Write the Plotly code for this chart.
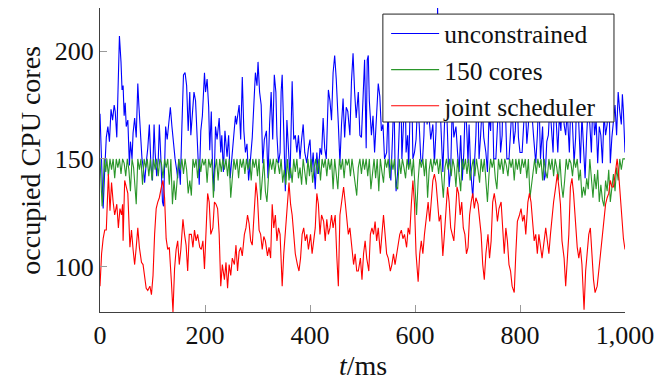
import plotly.graph_objects as go

# ---------------- data ----------------
unc_t = [0,3,6,9,12,15,18,21,24,27,29,32,35,37,40,42,44,46,48,50,53,56,58,61,63,66,69,72,74,76,78,80,83,85,88,91,94,97,100,103,105,108,111,113,116,119,121,123,125,128,131,134,137,140,143,146,148,150,153,156,159,162,165,168,171,173,176,179,182,185,189,192,195,199,201,204,207,209,212,214,217,220,223,227,230,232,235,238,242,245,248,251,255,258,260,265,268,271,274,277,280,283,286,290,293,296,299,301,304,307,310,313,317,320,323,326,329,332,335,337,340,343,345,347,350,353,356,359,362,366,369,372,375,378,381,384,387,390,394,397,400,403,406,410,413,416,419,422,425,428,431,435,438,441,444,447,450,454,457,460,463,466,469,472,476,479,482,485,488,492,495,498,501,504,507,509,511,513,517,520,523,527,530,533,536,539,542,546,549,551,554,557,560,562,564,567,570,573,575,578,581,583,586,588,590,593,596,599,602,605,608,611,614,617,620,623,626,630,634,637,640,643,646,649,651,653,656,659,662,665,668,671,674,678,681,684,687,690,693,696,699,701,703,706,710,713,716,719,722,725,728,731,735,738,741,744,747,750,754,757,760,763,766,769,772,775,779,782,785,788,791,794,797,800,804,807,810,813,816,820,823,826,830,833,836,839,843,846,848,851,854,857,860,863,866,869,872,875,878,881,884,887,890,894,897,900,903,906,909,912,915,918,921,924,927,930,933,936,939,942,945,948,951,954,957,960,963,966,969,972,975,978,981,984,987,990,993,995,997,1000]
unc_v = [171,150,127,145,160,165,158,173,168,175,172,160,190,207,195,182,184,170,176,165,168,147,158,150,162,169,160,185,175,166,158,150,145,139,148,155,166,147,140,166,153,142,150,166,150,130,128,145,165,159,166,174,165,157,150,145,141,150,138,165,189,190,184,163,181,161,172,181,177,161,138,163,170,190,181,187,174,154,172,150,135,165,159,169,153,161,144,163,151,161,141,150,161,170,166,175,159,188,163,153,157,140,148,160,175,190,184,195,181,175,148,159,163,141,166,181,159,189,181,161,148,153,181,189,163,135,168,153,141,186,159,161,153,161,150,159,166,153,148,155,159,144,153,136,153,143,155,152,169,155,150,182,177,168,190,198,187,166,148,166,178,160,174,172,161,186,199,181,169,181,161,160,180,196,155,196,198,177,161,170,153,172,185,179,163,166,150,153,175,148,140,159,180,146,135,144,163,185,150,166,190,153,161,146,166,195,150,153,159,176,166,150,148,161,188,166,172,159,166,148,163,220,185,166,157,144,165,182,161,137,145,175,160,165,153,144,161,140,153,178,161,148,166,145,132,150,161,190,150,161,175,160,153,144,170,163,185,150,150,165,180,153,161,200,168,150,150,161,175,157,163,185,160,153,153,166,178,157,166,192,170,160,148,161,180,150,165,140,142,158,161,175,166,153,182,166,153,170,163,188,166,161,172,153,178,166,148,160,190,166,148,170,155,141,161,175,166,153,180,161,168,148,165,161,148,171,161,166,185,148,160,169,175,161,181,172,166,180,172,153]

cap_t = [0,2,4,6,8,11,13,16,19,22,25,28,31,34,37,40,43,46,49,52,55,58,61,64,67,69,72,75,78,81,84,87,90,93,96,99,102,105,108,111,114,117,120,123,126,129,132,135,138,141,144,147,150,153,156,159,162,165,168,171,174,177,180,183,186,189,192,195,198,201,204,207,210,213,216,219,222,225,228,231,234,237,240,243,246,249,252,255,258,261,264,267,270,273,276,279,282,285,288,291,294,297,300,303,306,309,312,315,318,321,324,327,330,333,336,339,342,345,348,351,354,357,360,363,366,369,372,375,378,381,384,387,390,393,396,399,402,405,408,411,414,417,420,423,426,429,432,435,438,441,444,447,450,453,456,459,462,465,468,471,474,477,480,483,486,489,492,495,498,501,504,507,510,513,516,519,522,525,528,531,534,537,540,543,546,549,552,555,558,561,564,567,570,573,576,579,582,585,588,591,594,597,600,603,606,609,612,615,618,621,624,627,630,633,636,639,642,645,648,651,654,657,660,663,666,669,672,675,678,681,684,687,690,693,696,699,702,705,708,711,714,717,720,723,726,729,732,735,738,741,744,747,750,753,756,759,762,765,768,771,774,777,780,783,786,789,792,795,798,801,804,807,810,813,816,819,822,825,828,831,834,837,840,843,846,849,852,855,858,861,864,867,870,873,876,879,882,885,888,891,894,897,900,903,906,909,912,915,918,921,924,927,930,933,936,939,942,945,948,951,954,957,960,963,966,969,972,975,978,981,984,987,990,993,996,1000]
cap_v = [150,140,128,135,150,144,150,142,150,145,150,141,150,146,150,143,150,148,142,150,145,135,150,146,136,129,150,145,150,138,150,146,150,142,150,140,150,145,150,142,150,148,141,150,146,150,138,150,129,140,131,141,150,145,150,143,150,145,134,140,133,150,146,150,141,150,144,150,147,150,139,150,146,150,132,145,150,140,150,144,150,145,150,142,150,132,142,150,145,150,141,150,146,150,143,150,145,150,140,150,146,150,142,150,131,140,150,135,130,142,150,145,150,143,150,148,143,150,139,145,138,150,140,146,139,150,144,150,141,146,138,150,145,138,150,142,150,139,146,150,143,150,140,150,146,150,142,150,145,150,136,150,143,136,150,145,150,141,150,147,150,142,150,145,139,133,146,150,143,150,145,150,142,150,136,144,150,141,150,135,150,144,139,150,146,150,141,150,145,150,137,136,150,143,150,146,141,150,145,150,142,150,134,124,140,150,146,150,142,150,132,145,150,144,150,147,150,143,150,140,132,146,150,145,150,142,150,146,137,150,141,135,150,145,150,143,150,140,146,150,142,150,145,139,150,144,150,138,130,143,150,146,150,141,136,150,145,150,143,150,147,142,150,146,150,140,150,145,150,143,150,146,150,141,150,132,139,145,150,143,150,146,150,140,150,144,141,150,145,150,142,150,146,140,150,138,132,140,150,145,150,148,142,150,146,150,140,145,132,137,133,141,136,150,139,132,143,136,145,130,138,131,128,140,135,145,130,138,143,135,146,140,150,145,150,150]

joint_t = [0,3,6,9,12,16,19,22,25,28,32,35,38,41,43,44,47,50,53,57,60,63,66,69,72,75,79,82,85,88,91,95,98,101,104,107,110,113,117,120,123,126,129,132,136,139,142,145,148,151,154,158,161,164,167,170,174,177,180,183,186,190,193,196,199,202,205,208,211,215,218,221,224,227,230,233,237,240,243,246,249,252,256,259,262,265,268,271,275,278,281,284,287,290,294,297,300,303,306,309,312,315,319,322,325,328,331,334,337,340,343,347,350,353,357,360,363,366,369,372,376,379,382,385,388,391,394,397,401,404,407,410,413,416,419,422,426,429,432,435,438,441,444,448,451,454,457,460,464,467,470,473,476,480,483,486,489,492,496,499,502,505,508,512,515,518,521,524,527,530,534,537,540,543,546,549,553,556,559,562,565,568,571,574,577,580,584,587,590,593,596,599,602,606,609,612,615,618,622,625,628,631,634,637,640,643,646,649,653,656,659,662,665,668,671,674,677,680,683,686,689,692,695,698,701,704,707,710,713,716,720,723,726,729,732,735,739,742,745,748,751,754,757,760,764,767,770,773,776,779,782,785,789,792,795,799,802,805,808,811,815,818,821,824,827,830,833,836,839,842,845,849,852,855,858,861,864,868,871,874,877,880,884,887,890,893,896,899,902,905,909,912,915,918,922,925,928,931,934,937,940,943,947,950,953,956,960,963,966,969,972,975,978,981,985,988,991,994,997,1000]
joint_v = [91,106,113,117,117,143,126,139,130,124,129,118,127,124,129,112,140,137,134,109,117,108,101,109,118,109,102,101,94,90,89,91,87,96,115,127,130,132,137,140,132,113,108,109,93,79,99,108,112,101,108,122,115,110,98,115,115,109,117,112,115,109,108,112,99,115,134,130,115,118,130,129,127,115,91,101,94,102,90,101,96,104,101,110,98,107,109,105,115,118,124,120,112,110,129,139,132,117,115,108,114,112,105,109,104,129,118,124,112,118,115,91,106,115,129,139,129,124,115,106,101,98,104,115,118,112,115,108,115,106,112,118,134,129,115,124,121,112,122,115,118,124,118,124,105,91,124,130,137,130,121,115,118,108,101,106,98,98,104,94,106,112,104,98,115,118,115,121,112,118,106,115,124,115,106,104,98,101,106,101,106,109,115,117,113,115,109,118,115,129,140,129,106,93,106,112,106,115,124,130,121,129,140,143,139,130,121,124,105,115,124,137,130,118,115,112,124,137,134,124,130,118,115,106,109,124,130,134,127,132,129,121,115,101,94,106,115,104,112,130,134,129,121,127,130,118,106,118,112,101,98,91,88,106,121,124,127,121,124,115,130,134,130,121,112,115,106,115,109,104,110,118,112,106,115,124,130,137,143,137,129,112,104,91,104,115,137,141,134,121,109,104,109,101,80,98,109,115,118,106,94,88,91,98,106,112,124,129,132,134,140,137,137,143,150,143,132,124,113,108]

x_ticks = [0, 200, 400, 600, 800, 1000]
x_tick_text = ["0", "200", "400", "600", "800", "1,000"]
y_ticks = [100, 150, 200]
y_tick_text = ["100", "150", "200"]
series_names = ["unconstrained", "150 cores", "joint scheduler"]

# ---------------- figure ----------------
FONT = "Liberation Serif, Times New Roman, serif"
fig = go.Figure()
fig.add_trace(go.Scatter(x=unc_t, y=unc_v, mode="lines", name=series_names[0],
                         line=dict(color="#0000ff", width=1.1)))
fig.add_trace(go.Scatter(x=cap_t, y=cap_v, mode="lines", name=series_names[1],
                         line=dict(color="#2a962a", width=1.1)))
fig.add_trace(go.Scatter(x=joint_t, y=joint_v, mode="lines", name=series_names[2],
                         line=dict(color="#ff0000", width=1.1)))

axis_common = dict(showgrid=False, zeroline=False, showline=True, linecolor="#404040",
                   linewidth=1.2, ticks="inside", ticklen=7, tickcolor="#9a9a9a",
                   tickwidth=1, mirror=False,
                   tickfont=dict(family=FONT, size=26, color="#111"))

fig.update_layout(
    width=662, height=383,
    margin=dict(l=100, r=33, t=8, b=71),
    paper_bgcolor="white", plot_bgcolor="white",
    font=dict(family=FONT, size=25, color="#111"),
    xaxis=dict(range=[0, 1000], tickvals=x_ticks, ticktext=x_tick_text, **axis_common),
    yaxis=dict(range=[79, 220], tickvals=y_ticks, ticktext=y_tick_text, **axis_common),
    legend=dict(x=0.545, y=0.992, xanchor="left", yanchor="top",
                bgcolor="rgba(0,0,0,0)", borderwidth=0,
                font=dict(family=FONT, size=25.5, color="#111"),
                itemwidth=48, tracegroupgap=0),
    showlegend=True,
)
# legend frame (white box over the plot, drawn under the legend entries)
fig.add_shape(type="rect", xref="paper", yref="paper", x0=0.5388, x1=0.979, y0=0.625, y1=0.980,
              line=dict(color="#222", width=1), fillcolor="white", layer="above")
fig.add_annotation(text="<i>t</i>/ms", xref="paper", yref="paper", x=0.5, y=-0.2336,
                   xanchor="center", yanchor="bottom", showarrow=False,
                   font=dict(family=FONT, size=28, color="#111"))
fig.add_annotation(text="occupied CPU cores", xref="paper", yref="paper", x=-0.134, y=0.5,
                   xanchor="center", yanchor="middle", showarrow=False, textangle=-90,
                   font=dict(family=FONT, size=28, color="#111"))

fig.write_html("out.html", config={"displayModeBar": False},
               post_script="document.body.style.margin='0';document.body.style.padding='0';")
